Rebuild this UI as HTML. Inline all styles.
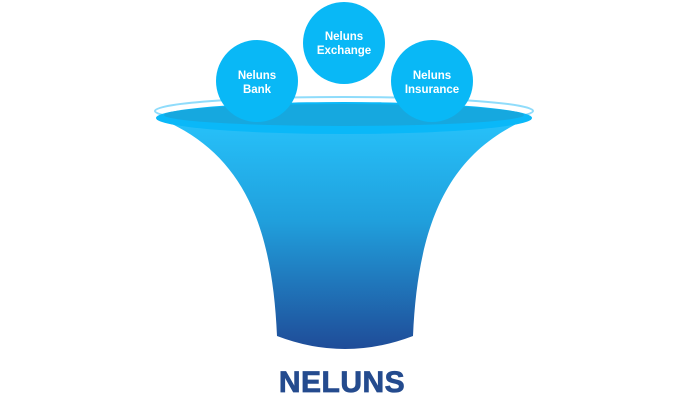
<!DOCTYPE html>
<html><head><style>
html,body{margin:0;padding:0;background:#fff;width:683px;height:401px;overflow:hidden}
</style></head><body>
<svg width="683" height="401" viewBox="0 0 683 401" xmlns="http://www.w3.org/2000/svg" font-family="Liberation Sans, sans-serif">
<defs>
<linearGradient id="g" x1="0" y1="0" x2="0" y2="1">
<stop offset="0" stop-color="#27c3fb"/>
<stop offset="0.45" stop-color="#209fdc"/>
<stop offset="1" stop-color="#1f4c98"/>
</linearGradient>
</defs>
<ellipse cx="344" cy="111" rx="189" ry="14" fill="#fff" stroke="#8fdcfb" stroke-width="2"/>
<path d="M156,117 C240,150 272,220 277,336 Q345,362 413,336 C418,220 450,150 532,117 Z" fill="url(#g)"/>
<ellipse cx="344" cy="118" rx="188" ry="16" fill="#0ab8f8"/>
<ellipse cx="344" cy="115" rx="180" ry="11" fill="#16a8df"/>
<circle cx="344" cy="43" r="41" fill="#09b8f6"/>
<circle cx="257" cy="81" r="41" fill="#09b8f6"/>
<circle cx="432" cy="81" r="41" fill="#09b8f6"/>
<g fill="#fff" font-weight="bold" font-size="11.5" text-anchor="middle">
<text x="344" y="40">Neluns</text><text x="344" y="54">Exchange</text>
<text x="257" y="79">Neluns</text><text x="257" y="93">Bank</text>
<text x="432" y="79">Neluns</text><text x="432" y="93">Insurance</text>
</g>
<text x="342" y="392" text-anchor="middle" font-size="30" font-weight="bold" fill="#244b8e" stroke="#244b8e" stroke-width="0.8" letter-spacing="0.5">NELUNS</text>
</svg>
</body></html>
